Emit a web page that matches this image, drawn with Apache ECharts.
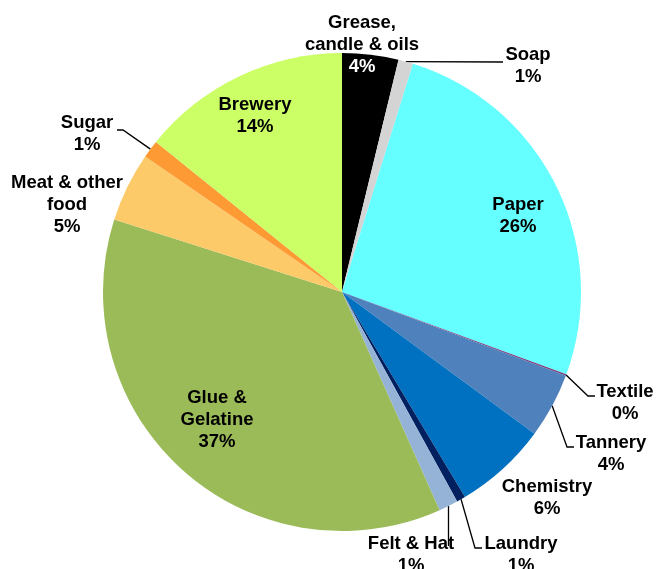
<!DOCTYPE html>
<html>
<head>
<meta charset="utf-8">
<script src="https://cdn.jsdelivr.net/npm/echarts@6/dist/echarts.min.js"></script>
<style>
  html, body { margin: 0; padding: 0; background: #ffffff; }
  #chart { width: 657px; height: 569px; }
</style>
</head>
<body>
<div id="chart"></div>
<script>
// Industry categories, clockwise from 12 o'clock
const industries = [
  'Grease,\ncandle & oils', 'Soap', 'Paper', 'Textile', 'Tannery', 'Chemistry',
  'Laundry', 'Felt & Hat', 'Glue &\nGelatine', 'Meat & other\nfood', 'Sugar', 'Brewery'
];
// Share of each industry (percent)
const shares = [3.8, 1.0, 25.8, 0.1, 4.4, 6.3, 0.6, 1.3, 36.6, 4.7, 1.2, 14.2];
// Slice fill colours
const sliceColors = [
  '#000000', '#d4d4d4', '#66ffff', '#7e3f7e', '#4f81bd', '#0070c0',
  '#002060', '#95b3d7', '#9bbb59', '#fdca69', '#fd9a33', '#ccff66'
];

// Label placement (centre of each label block, px)
const labelCenters = [
  [362, 45], [528, 66], [518, 216], [625, 403], [611, 453.5], [547, 497.5],
  [521, 555], [411, 555], [217, 420], [67, 205], [87, 134], [255, 116]
];
// Leader-line bends/ends; the start is the slice's own outer edge point.
// A null x keeps the start's x (a vertical drop).
const guideBends = {
  1: [[503, 62]],
  3: [[588, 396], [595, 396]],
  4: [[567, 447], [574, 447]],
  6: [[475, 548], [482, 548]],
  7: [[null, 546]],
  10: [[123, 130], [117, 130]]
};

const FONT = 'Liberation Sans, Arial, Helvetica, sans-serif';
const FONT_SIZE = 18.5;
const LINE_H = 22;

const seriesData = industries.map(function (name, i) {
  const hasGuide = guideBends[i] != null;
  return {
    name: name,
    value: shares[i],
    itemStyle: { color: sliceColors[i] },
    label: { position: hasGuide ? 'outside' : 'inside' },
    labelLine: { show: hasGuide, lineStyle: { color: '#000000', width: 1.3, opacity: 1 } }
  };
});

const chart = echarts.init(document.getElementById('chart'), null, { renderer: 'canvas' });
chart.setOption({
  animation: false,
  backgroundColor: '#ffffff',
  series: [{
    type: 'pie',
    center: [342, 292],
    radius: [0, 239],
    startAngle: 90,
    clockwise: true,
    avoidLabelOverlap: false,
    emphasis: { disabled: true },
    itemStyle: { borderWidth: 0 },
    label: {
      show: true,
      width: 220,
      overflow: 'none',
      color: '#000000',
      fontFamily: FONT,
      fontSize: FONT_SIZE,
      fontWeight: 'bold',
      lineHeight: LINE_H,
      align: 'center',
      formatter: function (p) {
        const pct = Math.round(p.percent) + '%';
        if (p.dataIndex === 0) {
          return p.name + '\n{w|' + pct + '}';
        }
        return p.name + '\n' + pct;
      },
      rich: {
        w: {
          color: '#ffffff',
          fontFamily: FONT,
          fontSize: FONT_SIZE,
          fontWeight: 'bold',
          lineHeight: LINE_H
        }
      }
    },
    labelLine: {
      lineStyle: { color: '#000000', width: 1.3, opacity: 1 }
    },
    labelLayout: function (p) {
      const i = p.dataIndex;
      const c = labelCenters[i];
      const out = { x: c[0], y: c[1], align: 'center', verticalAlign: 'middle' };
      const bends = guideBends[i];
      if (bends && p.labelLinePoints && p.labelLinePoints.length) {
        const start = p.labelLinePoints[0];
        out.labelLinePoints = [start].concat(bends.map(function (b) {
          return [b[0] == null ? start[0] : b[0], b[1]];
        }));
      }
      return out;
    },
    data: seriesData
  }]
});
</script>
</body>
</html>
